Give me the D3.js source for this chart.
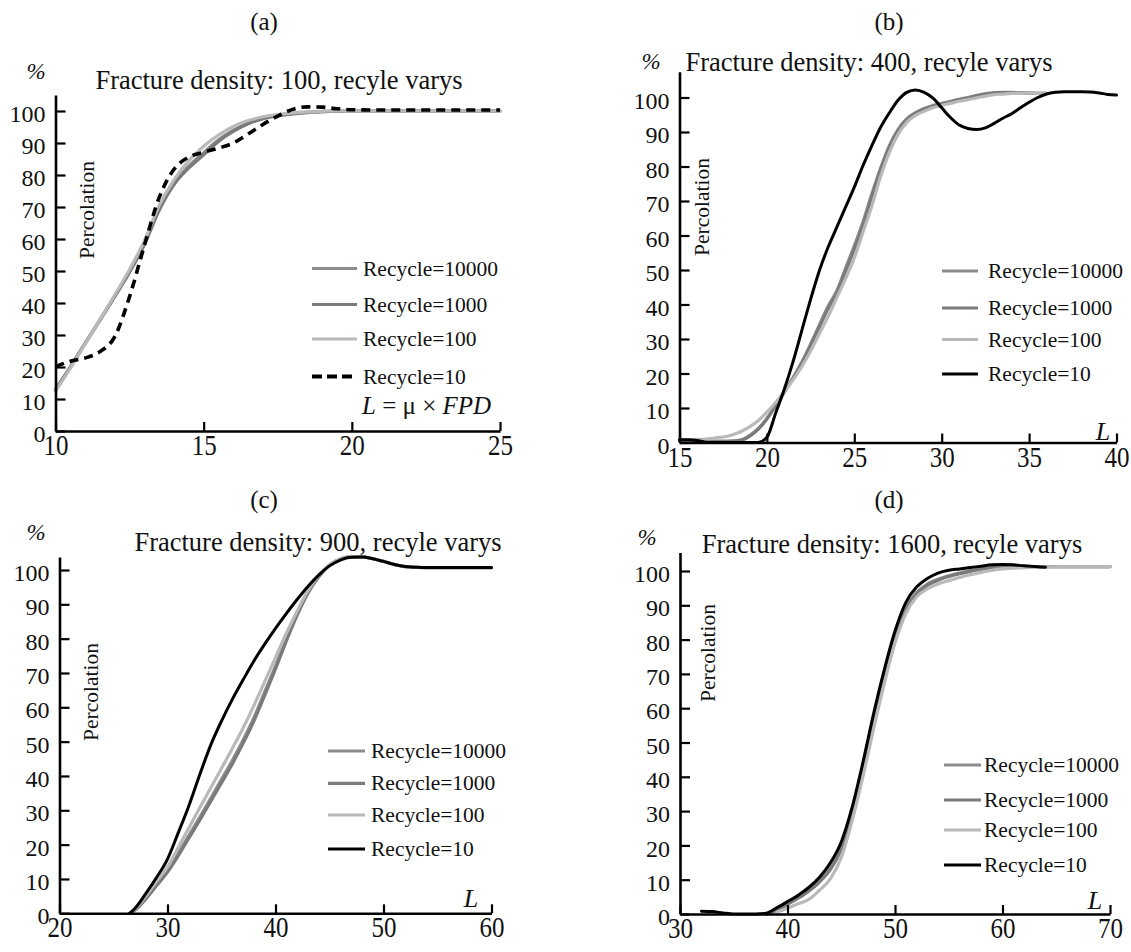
<!DOCTYPE html>
<html>
<head>
<meta charset="utf-8">
<script src="https://cdn.jsdelivr.net/npm/d3@7"></script>
<style>
  html, body { margin: 0; padding: 0; background: #fff; }
  svg { display: block; }
  text { font-family: "Liberation Serif", "Tinos", "Times New Roman", "DejaVu Serif", serif; fill: #111; }
</style>
</head>
<body>
<svg id="chart" width="1131" height="952"></svg>
<script>
// ---------------- DATA ----------------
const seriesNames = ["Recycle=10000", "Recycle=1000", "Recycle=100", "Recycle=10"];
const panelLabels = ["(a)", "(b)", "(c)", "(d)"];
const panelTitles = [
  "Fracture density: 100, recyle varys",
  "Fracture density: 400, recyle varys",
  "Fracture density: 900, recyle varys",
  "Fracture density: 1600, recyle varys"
];
const yTicks = [0, 10, 20, 30, 40, 50, 60, 70, 80, 90, 100];
const xTicksA = [10, 15, 20, 25];
const xTicksB = [15, 20, 25, 30, 35, 40];
const xTicksC = [20, 30, 40, 50, 60];
const xTicksD = [30, 40, 50, 60, 70];

// Panel (a): fracture density 100
const La = [10, 10.5, 11, 11.5, 12, 12.5, 13, 13.5, 14, 14.5, 15, 15.5, 16, 16.5, 17, 17.5, 18, 18.5, 19, 19.5, 20, 21, 22, 23, 24, 25];
const a10000 = [13, 20, 27.5, 34.8, 42.2, 49.8, 58.5, 69.5, 77.5, 82.8, 87, 91, 94, 96.2, 97.7, 98.6, 99.2, 99.6, 99.8, 99.9, 100, 100, 100, 100, 100, 100];
const a1000  = [13, 20, 27.3, 34.6, 42, 49.6, 58.3, 69, 77, 82.2, 86.3, 90.5, 93.6, 96, 97.6, 98.5, 99.1, 99.5, 99.8, 99.9, 100, 100, 100, 100, 100, 100];
const a100   = [12.5, 19.6, 27.2, 34.8, 42.5, 50.5, 59.5, 70.5, 78.5, 84.5, 89, 92.5, 95.2, 97, 98.2, 98.9, 99.4, 99.7, 99.9, 100, 100, 100, 100, 100, 100, 100];
const a10    = [20.1, 21.8, 22.8, 24.8, 29.5, 42, 58, 73, 81.8, 85.6, 87.1, 88.4, 90, 92.8, 95.8, 98.4, 100.5, 101.3, 101.2, 100.7, 100.4, 100.3, 100.3, 100.3, 100.3, 100.3];

// Panel (b): fracture density 400
const Lb = [15, 15.5, 16, 16.5, 17, 17.5, 18, 18.5, 19, 19.5, 20, 20.5, 21, 21.5, 22, 22.5, 23, 23.5, 24, 24.5, 25, 25.5, 26, 26.5, 27, 27.5, 28, 28.5, 29, 29.5, 30, 30.5, 31, 31.5, 32, 32.5, 33, 33.5, 34, 34.5, 35, 35.5, 36, 36.5, 37, 37.5, 38, 38.5, 39, 39.5, 40];
const b10000 = [0.5, 0.5, 0.4, 0.3, 0.3, 0.3, 0.4, 0.7, 2, 4, 7, 10.8, 14.8, 18.8, 23.3, 28.5, 34, 39.5, 44, 50.5, 57, 64, 72, 79.5, 86, 90.7, 93.8, 95.6, 96.8, 97.7, 98.3, 98.9, 99.5, 100, 100.6, 101.1, 101.4, 101.5, 101.5, 101.4, 101.3, 101.2, 101.2, null, null, null, null, null, null, null, null];
const b1000  = [0.5, 0.5, 0.4, 0.3, 0.3, 0.3, 0.4, 0.6, 1.8, 3.8, 6.8, 10.6, 14.6, 18.6, 23, 28, 33.4, 38.8, 43.3, 49.6, 56, 63, 71, 78.8, 85.5, 90.4, 93.6, 95.4, 96.6, 97.5, 98.1, 98.7, 99.3, 99.8, 100.4, 100.9, 101.2, 101.4, 101.4, 101.4, 101.3, 101.2, 101.2, null, null, null, null, null, null, null, null];
const b100   = [0.8, 0.8, 0.9, 1, 1.3, 1.6, 2.2, 3.1, 4.5, 6.3, 8.8, 11.6, 14.8, 18.2, 22, 26.5, 31.5, 36.5, 42, 47.5, 53.5, 61, 68.5, 77, 84, 89.3, 92.8, 94.8, 96, 97, 97.7, 98.3, 98.9, 99.4, 99.9, 100.4, 100.8, 101, 101.2, 101.3, 101.3, 101.2, 101.2, null, null, null, null, null, null, null, null];
const b10    = [0.8, 0.8, 0.6, 0.1, 0, 0, 0, 0, 0, 0, 1.5, 8.5, 15.5, 23.5, 32.5, 41.5, 49.8, 56.6, 62.4, 68.2, 74, 80.3, 86, 91.3, 95.5, 99.2, 101.5, 102.2, 101.5, 99.8, 97, 94.2, 92, 91, 90.7, 91.2, 92.5, 94, 95.3, 97, 98.6, 100, 101, 101.5, 101.7, 101.7, 101.7, 101.6, 101.3, 100.9, 100.7];

// Panel (c): fracture density 900
const Lc = [26.5, 27, 28, 29, 30, 31, 32, 33, 34, 35, 36, 37, 38, 39, 40, 41, 42, 43, 44, 45, 46, 47, 48, 49, 50, 51, 52, 53, 54, 55, 56, 57, 58, 59, 60];
const c10000 = [0, 1, 4.5, 8.5, 12.5, 17.5, 22.8, 28, 33.5, 39, 44.5, 50.5, 57, 64.5, 72, 80, 87.3, 93.5, 98.2, 101.5, 103.2, 103.8, 103.8, 103.3, 102.5, 101.6, 101, 100.8, 100.7, 100.7, 100.7, 100.7, 100.7, 100.7, 100.7];
const c1000  = [0, 0.9, 4.2, 8.1, 12, 16.8, 22, 27.2, 32.6, 38, 43.5, 49.5, 56, 63.5, 71.2, 79.3, 86.8, 93.2, 98, 101.4, 103.2, 103.8, 103.8, 103.3, 102.5, 101.6, 101, 100.8, 100.7, 100.7, 100.7, 100.7, 100.7, 100.7, 100.7];
const c100   = [0, 1.2, 5, 9.3, 13.5, 19.2, 25, 30.8, 36.5, 42.2, 48, 54, 60.5, 67.5, 74.5, 81.5, 88, 94, 98.5, 101.5, 103.2, 103.8, 103.8, 103.3, 102.5, 101.6, 101, 100.8, 100.7, 100.7, 100.7, 100.7, 100.7, 100.7, 100.7];
const c10    = [0, 1.5, 5.8, 10.5, 15.8, 23.5, 31.5, 40.5, 49, 56, 62.3, 68, 73.5, 78.4, 83, 87.3, 91.4, 95.2, 98.5, 101.2, 102.9, 103.7, 103.8, 103.3, 102.5, 101.6, 101, 100.8, 100.7, 100.7, 100.7, 100.7, 100.7, 100.7, 100.7];

// Panel (d): fracture density 1600
const Ld = [32, 33, 34, 35, 36, 37, 38, 39, 40, 41, 42, 43, 44, 45, 46, 47, 48, 49, 50, 51, 52, 53, 54, 55, 56, 57, 58, 59, 60, 61, 62, 63, 64, 66, 68, 70];
const d10000 = [null, null, null, null, null, null, 0, 1.2, 3, 4.8, 7, 9.8, 13.5, 19.5, 29.5, 42.5, 56.5, 69.8, 81, 89.2, 93.7, 96.2, 97.6, 98.6, 99.4, 100.1, 100.6, 101, 101.2, 101.3, 101.3, 101.3, 101.3, 101.3, 101.3, 101.3];
const d1000  = [null, null, null, null, null, null, 0, 1.1, 2.8, 4.6, 6.7, 9.4, 13, 18.8, 28.6, 41.5, 55.5, 68.8, 80.2, 88.6, 93.3, 95.8, 97.3, 98.4, 99.2, 99.9, 100.5, 100.9, 101.1, 101.3, 101.3, 101.3, 101.3, 101.3, 101.3, 101.3];
const d100   = [null, null, null, null, null, null, null, 0.5, 1.7, 3, 4.3, 7, 10.3, 16.5, 27, 39.8, 53.8, 67.2, 79, 87.5, 92.4, 94.8, 96.2, 97.2, 98.1, 98.9, 99.6, 100.2, 100.6, 100.8, 101, 101.1, 101.2, 101.3, 101.3, 101.3];
const d10    = [0.8, 0.7, 0.3, 0, 0, 0, 0.2, 1.8, 3.6, 5.5, 7.8, 10.8, 15, 21, 31, 44, 58.3, 71.2, 82.5, 90.8, 95.3, 97.8, 99.4, 100.2, 100.6, 101, 101.4, 101.8, 101.9, 101.8, 101.5, 101.3, 101.1, null, null, null];

// ---------------- LAYOUT / STYLE ----------------
const seriesColors = ["#8c8c8c", "#7a7a7a", "#b9b9b9", "#000000"];
const seriesWidths = [3.2, 3.2, 3.2, 3];
const FONT = "Liberation Serif, Tinos, Times New Roman, DejaVu Serif, serif";

const panels = [
  { L: La, S: [a10000, a1000, a100, a10], xt: xTicksA, xd: [10, 25], yTop: 105,
    x0: 55.5, x1: 500, y0: 431, y100: 111, dashed: true,
    lab: [264, 22], pct: [36, 72], title: [279, 80], perc: [87, 210],
    leg: { x1: 312, x2: 357, tx: 363, ys: [268.5, 304.5, 339, 376.5] },
    formula: [362, 405] },
  { L: Lb, S: [b10000, b1000, b100, b10], xt: xTicksB, xd: [15, 40], yTop: 107.5,
    x0: 679.5, x1: 1116.5, y0: 442.5, y100: 97.5, dashed: false,
    lab: [889, 22], pct: [651, 62], title: [869, 62], perc: [702, 207],
    leg: { x1: 942, x2: 978, tx: 988, ys: [271, 308, 339.5, 374] },
    Lpos: [1103, 431] },
  { L: Lc, S: [c10000, c1000, c100, c10], xt: xTicksC, xd: [20, 60], yTop: 103.8,
    x0: 59.5, x1: 491.5, y0: 913.3, y100: 570, dashed: false,
    lab: [264, 500], pct: [36, 533], title: [318, 542], perc: [91, 692],
    leg: { x1: 328, x2: 365, tx: 371, ys: [751, 783.3, 815, 849] },
    Lpos: [471, 898] },
  { L: Ld, S: [d10000, d1000, d100, d10], xt: xTicksD, xd: [30, 70], yTop: 105.4,
    x0: 680, x1: 1110, y0: 914, y100: 571, dashed: false,
    lab: [889, 500], pct: [647, 538], title: [892, 544], perc: [708, 653],
    leg: { x1: 944, x2: 981, tx: 984, ys: [765, 800, 830, 865] },
    Lpos: [1095, 900] }
];

const svg = d3.select("#chart");

panels.forEach((p, pi) => {
  const x = d3.scaleLinear().domain(p.xd).range([p.x0, p.x1]);
  const yUnit = (p.y0 - p.y100) / 100;
  const y = d3.scaleLinear().domain([0, p.yTop]).range([p.y0, p.y0 - p.yTop * yUnit]);
  const g = svg.append("g");

  // Curves
  const line = d3.line()
    .defined(d => d[1] != null)
    .x(d => x(d[0])).y(d => y(d[1]))
    .curve(d3.curveMonotoneX);

  p.S.forEach((vals, si) => {
    const pts = p.L.map((l, i) => [l, vals[i]]);
    const path = g.append("path")
      .datum(pts)
      .attr("d", line)
      .attr("fill", "none")
      .attr("stroke", seriesColors[si])
      .attr("stroke-width", seriesWidths[si])
      .attr("stroke-linejoin", "round")
      .attr("stroke-linecap", "round");
    if (si === 3 && p.dashed) {
      path.attr("stroke-width", 3.6).attr("stroke-dasharray", "9,6").attr("stroke-linecap", "butt");
    }
  });

  // Y axis
  const yAxis = d3.axisLeft(y).tickValues(yTicks).tickSize(-10).tickSizeOuter(0).tickPadding(10);
  const yg = g.append("g").attr("transform", `translate(${p.x0},0)`).call(yAxis);
  yg.attr("font-family", FONT);
  yg.select(".domain").attr("stroke", "#000").attr("stroke-width", 2.6);
  yg.selectAll(".tick line").attr("stroke", "#000").attr("stroke-width", 2.2);
  yg.selectAll(".tick text")
    .attr("font-size", 24).attr("fill", "#111")
    .attr("dy", "0.38em").attr("y", 1.5);

  // X axis
  const xAxis = d3.axisBottom(x).tickValues(p.xt).tickSize(-9).tickSizeOuter(0).tickPadding(0);
  const xg = g.append("g").attr("transform", `translate(0,${p.y0})`).call(xAxis);
  xg.attr("font-family", FONT);
  xg.select(".domain").attr("stroke", "#000").attr("stroke-width", 2.6);
  xg.selectAll(".tick line").attr("stroke", "#000").attr("stroke-width", 2.2);
  xg.selectAll(".tick text")
    .attr("font-size", 25).attr("fill", "#111")
    .attr("y", null).attr("dy", null)
    .attr("transform", "translate(0,24) scale(1,1.15)");

  // Texts
  g.append("text").attr("x", p.lab[0]).attr("y", p.lab[1] + 8)
    .attr("text-anchor", "middle").attr("font-size", 25).text(panelLabels[pi]);
  g.append("text").attr("x", p.pct[0]).attr("y", p.pct[1] + 7)
    .attr("text-anchor", "middle").attr("font-size", 23).attr("font-style", "italic").text("%");
  g.append("text").attr("x", p.title[0]).attr("y", p.title[1] + 8.5)
    .attr("text-anchor", "middle").attr("font-size", 26.5).text(panelTitles[pi]);
  g.append("text")
    .attr("transform", `translate(${p.perc[0] + 7},${p.perc[1]}) rotate(-90)`)
    .attr("text-anchor", "middle").attr("font-size", 21.5).text("Percolation");

  // Legend
  seriesNames.forEach((name, si) => {
    const ly = p.leg.ys[si];
    const ln = g.append("line")
      .attr("x1", p.leg.x1).attr("x2", p.leg.x2).attr("y1", ly).attr("y2", ly)
      .attr("stroke", seriesColors[si]).attr("stroke-width", 3.2);
    if (si === 3 && p.dashed) ln.attr("stroke-width", 3.8).attr("stroke-dasharray", "10,5");
    g.append("text").attr("x", p.leg.tx).attr("y", ly + 7)
      .attr("font-size", 21.5).text(name);
  });

  if (p.formula) {
    const t = g.append("text").attr("x", p.formula[0]).attr("y", p.formula[1] + 8.5).attr("font-size", 25);
    t.append("tspan").attr("font-style", "italic").text("L");
    t.append("tspan").text(" = μ × ");
    t.append("tspan").attr("font-style", "italic").text("FPD");
  }
  if (p.Lpos) {
    g.append("text").attr("x", p.Lpos[0]).attr("y", p.Lpos[1] + 9)
      .attr("text-anchor", "middle").attr("font-size", 26).attr("font-style", "italic").text("L");
  }
});
</script>
</body>
</html>
